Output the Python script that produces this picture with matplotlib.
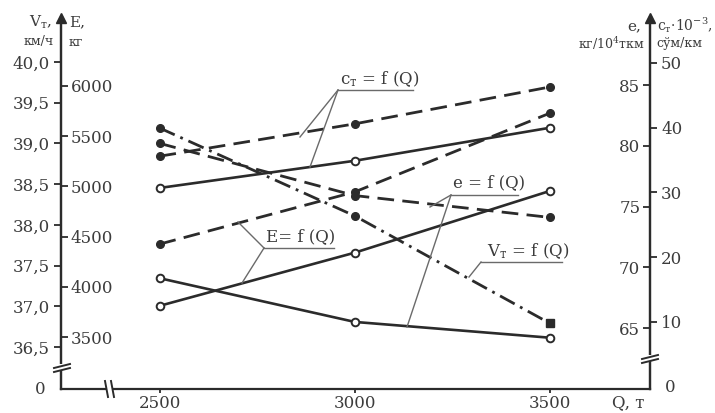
import matplotlib
matplotlib.use("Agg")
import matplotlib.pyplot as plt
from matplotlib.lines import Line2D
from matplotlib.patches import Rectangle

plt.rcParams['font.family'] = ['DejaVu Serif']
plt.rcParams['mathtext.fontset'] = 'dejavuserif'

# values
Q = [2500, 3000, 3500]
v_t = [39.19, 38.11, 36.79]
E_solid = [3810, 4340, 4955]
E_dashed = [4425, 4945, 5730]
e_solid = [69.1, 65.5, 64.2]
e_dashed = [80.2, 75.9, 74.1]
c_solid = [30.7, 34.9, 40.0]
c_dashed = [35.6, 40.6, 46.3]

q_ticks = [2500, 3000, 3500]
v_ticks = [36.5, 37.0, 37.5, 38.0, 38.5, 39.0, 39.5, 40.0]
v_labels = ['36,5', '37,0', '37,5', '38,0', '38,5', '39,0', '39,5', '40,0']
E_ticks = [3500, 4000, 4500, 5000, 5500, 6000]
e_ticks = [65, 70, 75, 80, 85]
c_ticks = [10, 20, 30, 40, 50]

INK = '#2b2b2b'
TXT = '#3c3c3c'
LEAD = '#6a6a6a'
W, H = 715, 413
TOP, BOT, LEFT, RIGHT = 18, 389, 61, 650


def lims(v1, p1, v2, p2, a, b):
    # axis limits from two calibration ticks (pixel positions)
    k = (v2 - v1) / (p2 - p1)
    return v1 + (a - p1) * k, v1 + (b - p1) * k


def px(x, y):
    return x / W, 1 - y / H


def seg(x1, y1, x2, y2, color=LEAD, lw=1.0):
    (a, b), (c, d) = px(x1, y1), px(x2, y2)
    fig.add_artist(Line2D([a, c], [b, d], color=color, lw=lw))


def label(x, y, s, **kw):
    kw.setdefault('fontsize', 12)
    kw.setdefault('color', TXT)
    kw.setdefault('va', 'center')
    fig.text(*px(x, y), s, **kw)


fig = plt.figure(figsize=(7.15, 4.13), dpi=100)
ax = fig.add_axes([LEFT / W, 1 - BOT / H, (RIGHT - LEFT) / W, (BOT - TOP) / H])
ax_E = ax.twinx()
ax_e = ax.twinx()
ax_c = ax.twinx()

ax.set_xlim(*lims(2500, 159.5, 3500, 550, LEFT, RIGHT))
ax.set_ylim(*lims(40.0, 62, 36.5, 347, BOT, TOP))
ax_E.set_ylim(*lims(6000, 86, 3500, 337, BOT, TOP))
ax_e.set_ylim(*lims(85, 85, 65, 328, BOT, TOP))
ax_c.set_ylim(*lims(50, 63, 10, 322, BOT, TOP))

for a in (ax, ax_E, ax_e, ax_c):
    for s in a.spines.values():
        s.set_visible(False)
        s.set_color(INK)
        s.set_linewidth(1.6)

ax.spines['left'].set_visible(True)
ax.spines['bottom'].set_visible(True)
ax_E.spines['right'].set_visible(True)
ax_E.spines['right'].set_position(('axes', 0))
ax_e.spines['left'].set_visible(True)
ax_e.spines['left'].set_position(('axes', 1))
ax_e.yaxis.set_ticks_position('left')
ax_c.spines['right'].set_visible(True)

tp = dict(direction='out', width=1.3, color=INK, labelcolor=TXT, labelsize=12)
ax.set_xticks(q_ticks)
ax.set_xticklabels([str(q) for q in q_ticks])
ax.tick_params(axis='x', pad=1, length=3, **tp)
ax.set_yticks(v_ticks)
ax.set_yticklabels(v_labels)
ax.tick_params(axis='y', pad=3, length=5, **tp)
ax_E.set_yticks(E_ticks)
ax_E.tick_params(axis='y', pad=2, length=5, **tp)
ax_e.set_yticks(e_ticks)
ax_e.tick_params(axis='y', pad=2, length=5, **tp)
ax_c.set_yticks(c_ticks)
ax_c.tick_params(axis='y', pad=3, length=5, **tp)

# axis arrows
for xa in (0, 1):
    ax.plot([xa], [1], marker='^', ms=7, color=INK, transform=ax.transAxes,
            clip_on=False, zorder=5)

solid = dict(color=INK, lw=1.9, marker='o', ms=5.5, mfc='white', mec=INK, mew=1.4)
dashed = dict(color=INK, lw=2.0, dashes=[6, 3], marker='o', ms=5.5, mfc=INK, mec=INK)

ax_c.plot(Q, c_solid, **solid)
ax_c.plot(Q, c_dashed, **dashed)
ax_e.plot(Q, e_solid, **solid)
ax_e.plot(Q, e_dashed, **dashed)
ax_E.plot(Q, E_solid, **solid)
ax_E.plot(Q, E_dashed, **dashed)
ax.plot(Q, v_t, color=INK, lw=2.0, dashes=[6, 2.2, 1, 2.2])
ax.plot(Q[:2], v_t[:2], 'o', ms=5.5, color=INK)
ax.plot(Q[2:], v_t[2:], 's', ms=5.5, color=INK)


# axis breaks
def brk_h(xc, yc):
    fig.add_artist(Rectangle(px(xc - 9, yc + 3), 18 / W, 6 / H, color='white', lw=0))
    seg(xc - 8, yc + 1, xc + 8, yc - 3, INK, 1.4)
    seg(xc - 8, yc + 5, xc + 8, yc + 1, INK, 1.4)


brk_h(62, 367)
brk_h(650, 358)
fig.add_artist(Rectangle(px(107, 392), 6 / W, 6 / H, color='white', lw=0))
seg(105, 381, 108, 397, INK, 1.4)
seg(111, 381, 114, 397, INK, 1.4)

# axis titles
label(52, 22, r'V$_\mathregular{т}$,', ha='right', fontsize=11)
label(54, 42, 'км/ч', ha='right', fontsize=9)
label(69, 22, 'E,', ha='left', fontsize=11)
label(69, 42, 'кг', ha='left', fontsize=9)
label(641, 26, 'e,', ha='right', fontsize=11)
label(645, 44, r'кг/10$^\mathregular{4}$ткм', ha='right', fontsize=9)
label(657, 25, r'c$_\mathregular{т}$·10$^\mathregular{-3}$,', ha='left', fontsize=10)
label(656, 44, 'сўм/км', ha='left', fontsize=9)
label(40, 389, '0', ha='center')
label(670, 387, '0', ha='center')
label(612, 403, 'Q, т', ha='left')

# curve labels with leaders
label(340, 79, r'c$_\mathregular{т}$ = f (Q)', ha='left')
seg(338, 90, 413, 90)
seg(338, 90, 300, 137)
seg(338, 90, 310, 167)

label(453, 183, 'e = f (Q)', ha='left')
seg(451, 195, 518, 195)
seg(451, 195, 430, 207)
seg(451, 195, 407, 327)

label(266, 237, 'E= f (Q)', ha='left')
seg(264, 248, 334, 248)
seg(264, 248, 238, 222)
seg(264, 248, 242, 283)

label(487, 251, r'V$_\mathregular{т}$ = f (Q)', ha='left')
seg(481, 262, 562, 262)
seg(481, 262, 469, 277)

fig.savefig('out.png', dpi=100)
